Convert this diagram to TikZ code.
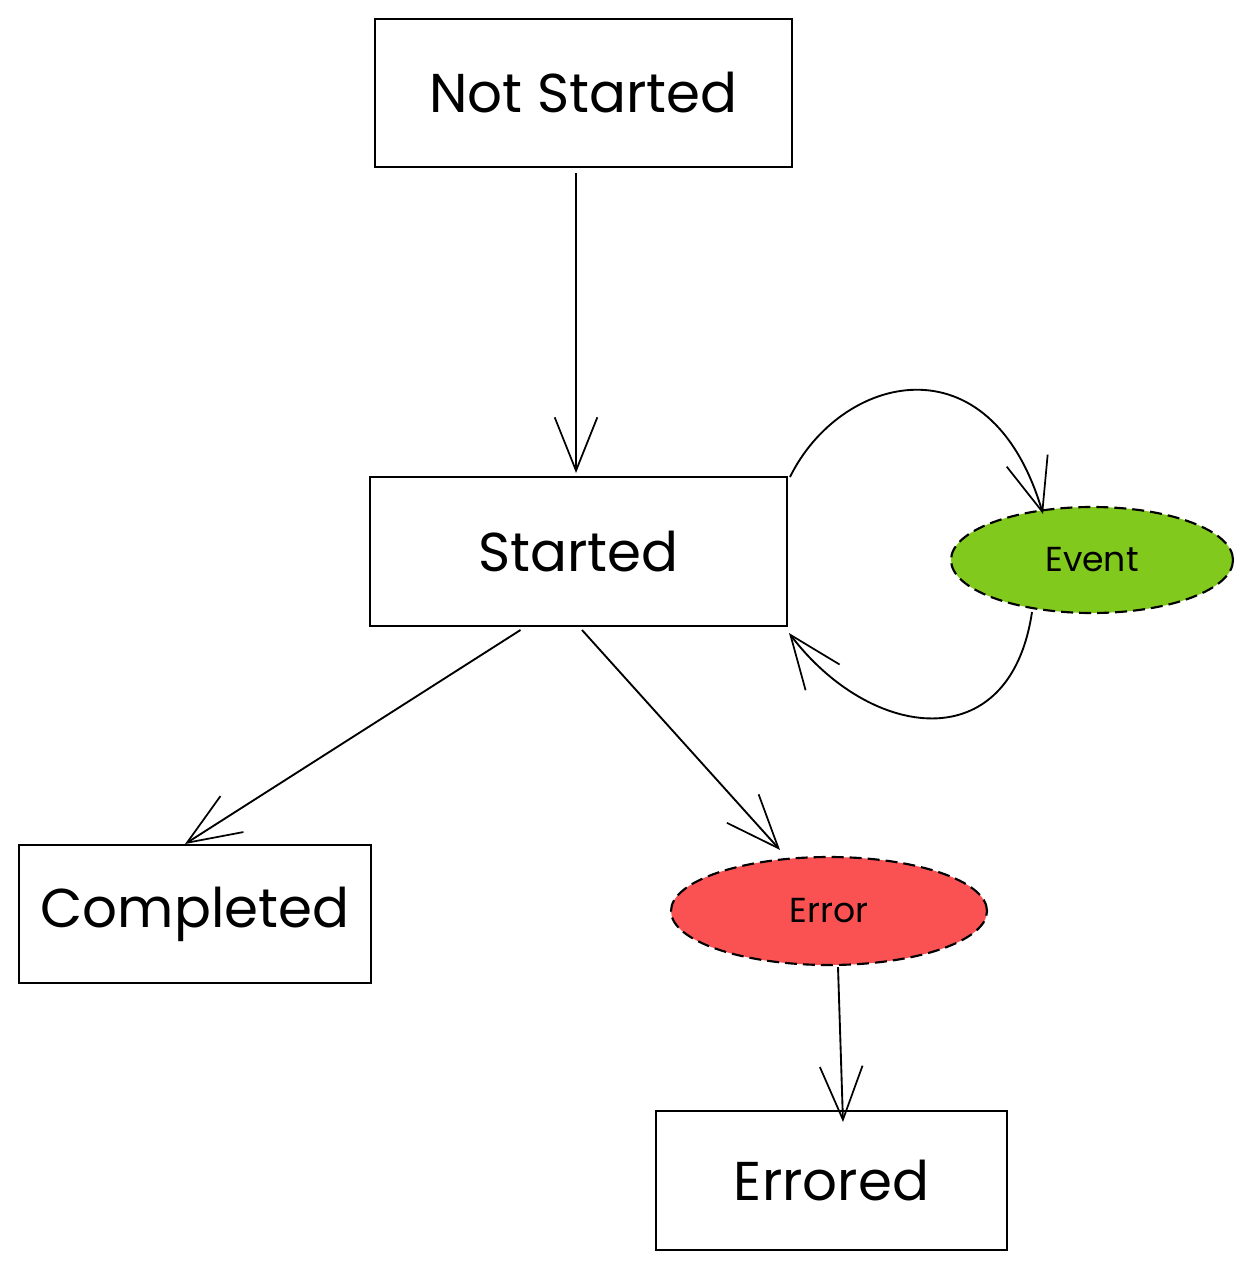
\documentclass[tikz,border=0pt]{standalone}
\usepackage{fontspec}
\setmainfont{Poppins}
\usetikzlibrary{arrows.meta,shapes.geometric,calc}
\newcommand\px{0.75pt}
\begin{document}
\begin{tikzpicture}[x=0.75pt,y=-0.75pt,
  box/.style={draw=black,line width=1.5pt,rectangle,inner sep=0pt},
  blob/.style={draw=black,line width=1.6pt,ellipse,inner sep=0pt,dash pattern=on 9pt off 4.5pt},
  arr/.style={draw=black,line width=1.4pt,-{Straight Barb[length=40pt,width=32pt,line width=1.3pt]}},
  big/.style={font=\fontsize{41}{46}\selectfont},
  small/.style={font=\fontsize{26}{30}\selectfont}]
\useasboundingbox (0,0) rectangle (1253,1269);
\fill[white] (0,0) rectangle (1253,1269);
\node[box,big,minimum width={417*\px},minimum height={148*\px}] (ns) at (583.5,93) {Not Started};
\node[box,big,minimum width={417*\px},minimum height={149*\px}] (st) at (578.5,551.5) {Started};
\node[box,big,minimum width={352*\px},minimum height={138*\px}] (co) at (195,914) {Completed};
\node[box,big,minimum width={351*\px},minimum height={139*\px}] (ed) at (831.5,1180.5) {Errored};
\node[blob,small,fill={rgb,255:red,130;green,201;blue,30},minimum width={282*\px},minimum height={106*\px}] (ev) at (1092,560) {Event};
\node[blob,small,fill={rgb,255:red,250;green,82;blue,82},minimum width={316*\px},minimum height={108*\px}] (er) at (829,911) {Error};
\draw[arr] ($(ns.south)+(-7.5,5)$) -- ($(st.north)+(-2.5,-3)$);
\draw[arr] ($(st.south)+(-58,3)$) -- ($(co.north)+(-10,0)$);
\draw[arr] ($(st.south)+(3.5,3)$) -- ($(er.north)+(-49,-6)$);
\draw[arr] ($(er.south)+(9,1)$) -- ($(ed.north)+(11.5,12)$);
\draw[arr] ($(st.north east)+(2,1)$) .. controls (840,375) and (990,335) .. ($(ev.center)+(-49,-46)$);
\draw[arr] ($(ev.center)+(-60,52)$) .. controls (1010,760) and (870,740) .. ($(st.south east)+(1,6)$);
\end{tikzpicture}
\end{document}
